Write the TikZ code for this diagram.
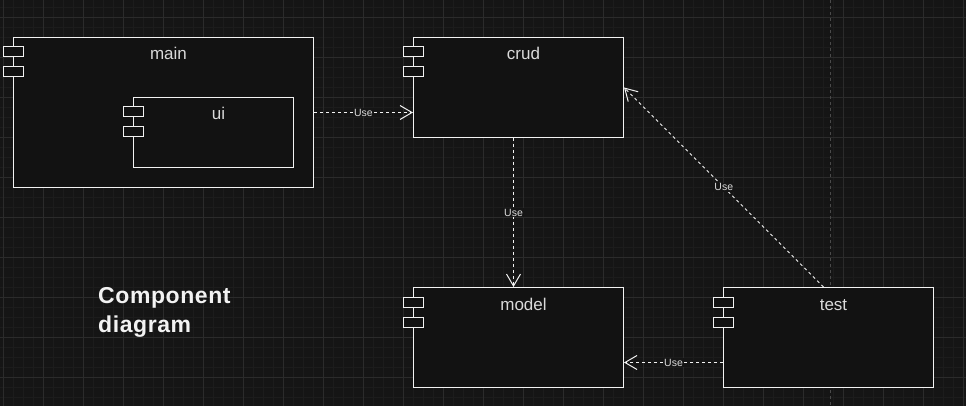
\documentclass[tikz,border=0pt]{standalone}
\usepackage{fontspec}
\setmainfont{Liberation Sans}
\newfontfamily\titlefont[LetterSpace=2.5]{Liberation Sans}
\usetikzlibrary{arrows.meta}
\definecolor{bg}{HTML}{151515}
\definecolor{boxC}{HTML}{121212}
\definecolor{lineC}{HTML}{F2F2F2}
\definecolor{textC}{HTML}{DADADA}
\definecolor{minorC}{HTML}{1C1C1C}
\definecolor{majorC}{HTML}{2B2B2B}
\definecolor{pageC}{HTML}{4A4A4A}
\begin{document}
\begin{tikzpicture}[x=1pt,y=-1pt,
  comp/.style={draw=lineC, fill=boxC, line width=1pt, rectangle, inner sep=0pt, anchor=north west},
  compname/.style={anchor=base, yshift=-23pt, xshift=5pt, inner sep=0pt, text=textC, font=\fontsize{17}{20}\selectfont},
  pinbox/.style={draw=lineC, fill=boxC, line width=1pt},
  use/.style={draw=lineC, line width=1pt, dash pattern=on 3pt off 3pt, -{Straight Barb[length=12pt,width=14pt,line width=1pt]}},
  uselab/.style={fill=bg, inner sep=1pt, text=textC, font=\fontsize{10.5}{12}\selectfont},
  title/.style={anchor=north west, inner sep=0pt, align=left, text=lineC, font=\titlefont\fontsize{23}{29}\selectfont\bfseries}]
\fill[bg] (0,0) rectangle (966,406);
\useasboundingbox (0,0) rectangle (966,406);
\foreach \x in {3,13,...,963} \draw[minorC, line width=0.8pt] (\x,0) -- (\x,406);
\foreach \y in {7,17,...,397} \draw[minorC, line width=0.8pt] (0,\y) -- (966,\y);
\foreach \x in {3,43,...,963} \draw[majorC, line width=0.8pt] (\x,0) -- (\x,406);
\foreach \y in {17,57,...,377} \draw[majorC, line width=0.8pt] (0,\y) -- (966,\y);
\draw[pageC, line width=0.8pt, dash pattern=on 3pt off 3pt] (830,0) -- (830,406);

\node[comp, minimum width=300pt, minimum height=150pt, label={[compname]north:main}] (main) at (13,37) {};
\node[comp, minimum width=160pt, minimum height=70pt, label={[compname]north:ui}] (ui) at (133,97) {};
\node[comp, minimum width=210pt, minimum height=100pt, label={[compname]north:crud}] (crud) at (413,37) {};
\node[comp, minimum width=210pt, minimum height=100pt, label={[compname]north:model}] (model) at (413,287) {};
\node[comp, minimum width=210pt, minimum height=100pt, label={[compname]north:test}] (test) at (723,287) {};
\foreach \n in {main,ui,crud,model,test} {
  \draw[pinbox] ([shift={(-10pt,-10pt)}]\n.north west) rectangle ++(20,10);
  \draw[pinbox] ([shift={(-10pt,-30pt)}]\n.north west) rectangle ++(20,10);
}

\coordinate (cs) at ([xshift=-5pt]crud.south);
\coordinate (tn) at ([xshift=-5pt]test.north);
\coordinate (tw) at ([yshift=-25pt]test.west);

\draw[use] (main.east) -- (main.east -| crud.west) node[midway, uselab] {Use};
\draw[use] (cs) -- (cs |- model.north) node[midway, uselab] {Use};
\draw[use] (tn) -- (crud.east) node[midway, uselab] {Use};
\draw[use] (tw) -- (tw -| model.east) node[midway, uselab] {Use};

\node[title] (ttl) at (98,287.5) {Component\\diagram};
\end{tikzpicture}
\end{document}
